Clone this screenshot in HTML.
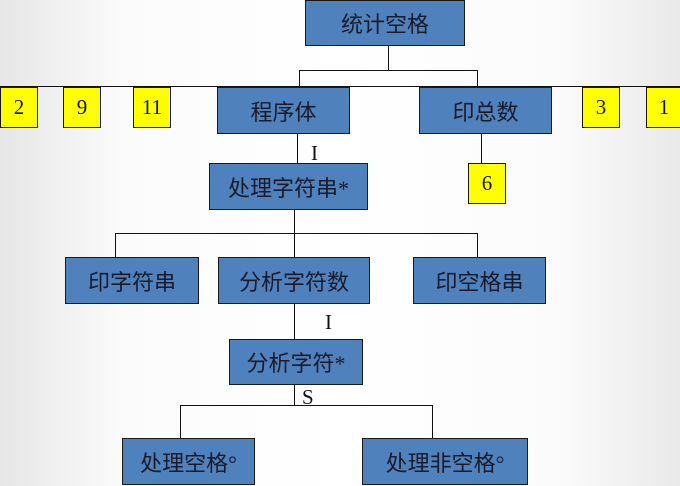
<!DOCTYPE html>
<html><head><meta charset="utf-8"><style>
body{margin:0;width:680px;height:486px;overflow:hidden;background:linear-gradient(90deg,#e6e6e6 0%,#fbfbfb 18%,#ffffff 50%,#fbfbfb 82%,#e9e9e9 100%);position:relative;font-family:"Liberation Serif","Noto Sans CJK SC",serif;}
.b{position:absolute;box-sizing:border-box;background:#4f81bd;border:1.5px solid #1a1a1a;color:#1a1a2a;font-size:22px;display:flex;align-items:center;justify-content:center;font-family:"Liberation Serif","Noto Sans CJK SC",sans-serif;}
.y{position:absolute;box-sizing:border-box;background:#ffff00;border:1.5px solid #1a1a1a;color:#111;font-size:21px;display:flex;align-items:center;justify-content:center;}
.h{position:absolute;height:1.2px;background:#111;}
.v{position:absolute;width:1.2px;background:#111;}
.t{position:absolute;font-size:21px;color:#111;}
</style></head><body>
<div class="h" style="left:0;top:86px;width:680px"></div>
<div class="v" style="left:388px;top:45px;height:25px"></div>
<div class="h" style="left:299px;top:70px;width:179px"></div>
<div class="v" style="left:299px;top:70px;height:17px"></div>
<div class="v" style="left:477px;top:70px;height:17px"></div>
<div class="v" style="left:297px;top:134px;height:29px"></div>
<div class="v" style="left:481px;top:134px;height:29px"></div>
<div class="v" style="left:294px;top:210px;height:47px"></div>
<div class="h" style="left:115px;top:233px;width:363px"></div>
<div class="v" style="left:115px;top:233px;height:24px"></div>
<div class="v" style="left:477px;top:233px;height:24px"></div>
<div class="v" style="left:294px;top:304px;height:35px"></div>
<div class="v" style="left:294px;top:385px;height:20px"></div>
<div class="h" style="left:180px;top:405px;width:253px"></div>
<div class="v" style="left:180px;top:405px;height:33px"></div>
<div class="v" style="left:432px;top:405px;height:33px"></div>

<div class="b" style="left:305px;top:0;width:160px;height:46px">统计空格</div>
<div class="y" style="left:0;top:87px;width:38px;height:41px">2</div>
<div class="y" style="left:63px;top:87px;width:38px;height:41px">9</div>
<div class="y" style="left:133px;top:87px;width:38px;height:41px">11</div>
<div class="y" style="left:582px;top:87px;width:38px;height:41px">3</div>
<div class="y" style="left:646px;top:87px;width:36px;height:41px">1</div>
<div class="b" style="left:217px;top:87px;width:133px;height:47px">程序体</div>
<div class="b" style="left:419px;top:87px;width:133px;height:47px">印总数</div>
<div class="t" style="left:311px;top:141px">I</div>
<div class="b" style="left:209px;top:163px;width:159px;height:47px">处理字符串*</div>
<div class="y" style="left:468px;top:163px;width:38px;height:41px">6</div>
<div class="b" style="left:65px;top:257px;width:134px;height:47px">印字符串</div>
<div class="b" style="left:218px;top:257px;width:152px;height:47px">分析字符数</div>
<div class="b" style="left:413px;top:257px;width:133px;height:47px">印空格串</div>
<div class="t" style="left:325px;top:310px">I</div>
<div class="b" style="left:229px;top:339px;width:134px;height:46px">分析字符*</div>
<div class="t" style="left:302px;top:385px">S</div>
<div class="b" style="left:122px;top:438px;width:133px;height:47px">处理空格°</div>
<div class="b" style="left:362px;top:438px;width:166px;height:47px">处理非空格°</div>
</body></html>
